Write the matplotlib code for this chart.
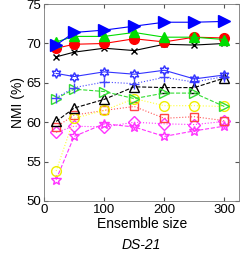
import numpy as np
import matplotlib
matplotlib.use('Agg')
import matplotlib.pyplot as plt

plt.rcParams['font.family'] = ['Liberation Sans', 'DejaVu Sans']

sizes = [20, 50, 100, 150, 200, 250, 300]

blue_tri = [69.8, 71.4, 71.7, 72.2, 72.7, 72.7, 72.8]
green_tri = [70.2, 70.9, 70.9, 71.4, 70.8, 70.8, 70.5]
red_circ = [69.4, 69.9, 70.0, 70.6, 70.2, 70.8, 70.7]
black_x = [68.3, 68.9, 69.4, 69.1, 69.9, 69.8, 70.0]
blue_star = [66.2, 65.8, 66.4, 66.1, 66.6, 65.5, 66.0]
blue_plus = [63.1, 64.4, 65.1, 64.9, 65.7, 65.1, 65.8]
green_otri = [63.0, 64.2, 63.9, 63.0, 63.7, 63.7, 62.0]
black_otri = [60.1, 61.8, 62.9, 64.5, 64.4, 64.4, 65.6]
yellow_circ = [53.8, 60.5, 61.5, 63.0, 62.1, 62.1, 62.0]
red_sq = [59.4, 60.9, 61.5, 62.0, 60.5, 60.7, 60.2]
mag_dia = [58.7, 59.5, 59.4, 60.0, 59.8, 59.7, 60.1]
mag_ast = [52.7, 58.2, 59.8, 59.4, 58.2, 58.9, 59.5]

fig = plt.figure(figsize=(2.41, 2.57), dpi=100)
ax = fig.add_axes([0.183, 0.218, 0.81, 0.766])

ax.plot(sizes, mag_ast, color='#ff33ff', ls='--', lw=0.8, marker='*', ms=7, mfc='none', mec='#ff33ff')
ax.plot(sizes, mag_dia, color='#ff33ff', ls=':', lw=0.8, marker='D', ms=6, mfc='none', mec='#ff33ff')
ax.plot(sizes, red_sq, color='#ff5555', ls=':', lw=0.8, marker='s', ms=6, mfc='none', mec='#ff4444')
ax.plot(sizes, yellow_circ, color='#ffff33', ls=':', lw=0.8, marker='o', ms=7, mfc='none', mec='#eeee00')
ax.plot(sizes, black_otri, color='black', ls='--', lw=0.8, marker='^', ms=7, mfc='none')
ax.plot(sizes, green_otri, color='#33dd33', ls='--', lw=0.8, marker='>', ms=7, mfc='none')
ax.plot(sizes, blue_plus, color='#4444ff', ls=':', lw=0.8, marker='+', ms=7)
ax.plot(sizes, blue_star, color='#3333ff', ls='-', lw=0.8, marker=(6, 1, 0), ms=7, mfc='none')
ax.plot(sizes, black_x, color='black', ls='-', lw=0.8, marker='x', ms=5)
ax.plot(sizes, red_circ, color='red', ls='-', lw=0.8, marker='o', ms=7)
ax.plot(sizes, green_tri, color='#00dd00', ls='-', lw=0.8, marker='^', ms=7)
ax.plot(sizes, blue_tri, color='blue', ls='-', lw=0.8, marker='>', ms=8)

ax.set_xlim(0, 325)
ax.set_ylim(50, 75)
ax.set_xticks([0, 100, 200, 300])
ax.set_yticks([50, 55, 60, 65, 70, 75])
ax.tick_params(direction='in', top=True, right=True, labelsize=9.5, length=3,
               color='#555555', pad=2)
for s in ax.spines.values():
    s.set_color('#777777')
    s.set_linewidth(0.6)

ax.set_ylabel('NMI (%)', fontsize=10, labelpad=1)
ax.set_xlabel('Ensemble size', fontsize=10, labelpad=1)
fig.text(0.585, 0.03, 'DS-21', fontsize=10, style='italic', ha='center')

fig.savefig('out.png', dpi=100)
